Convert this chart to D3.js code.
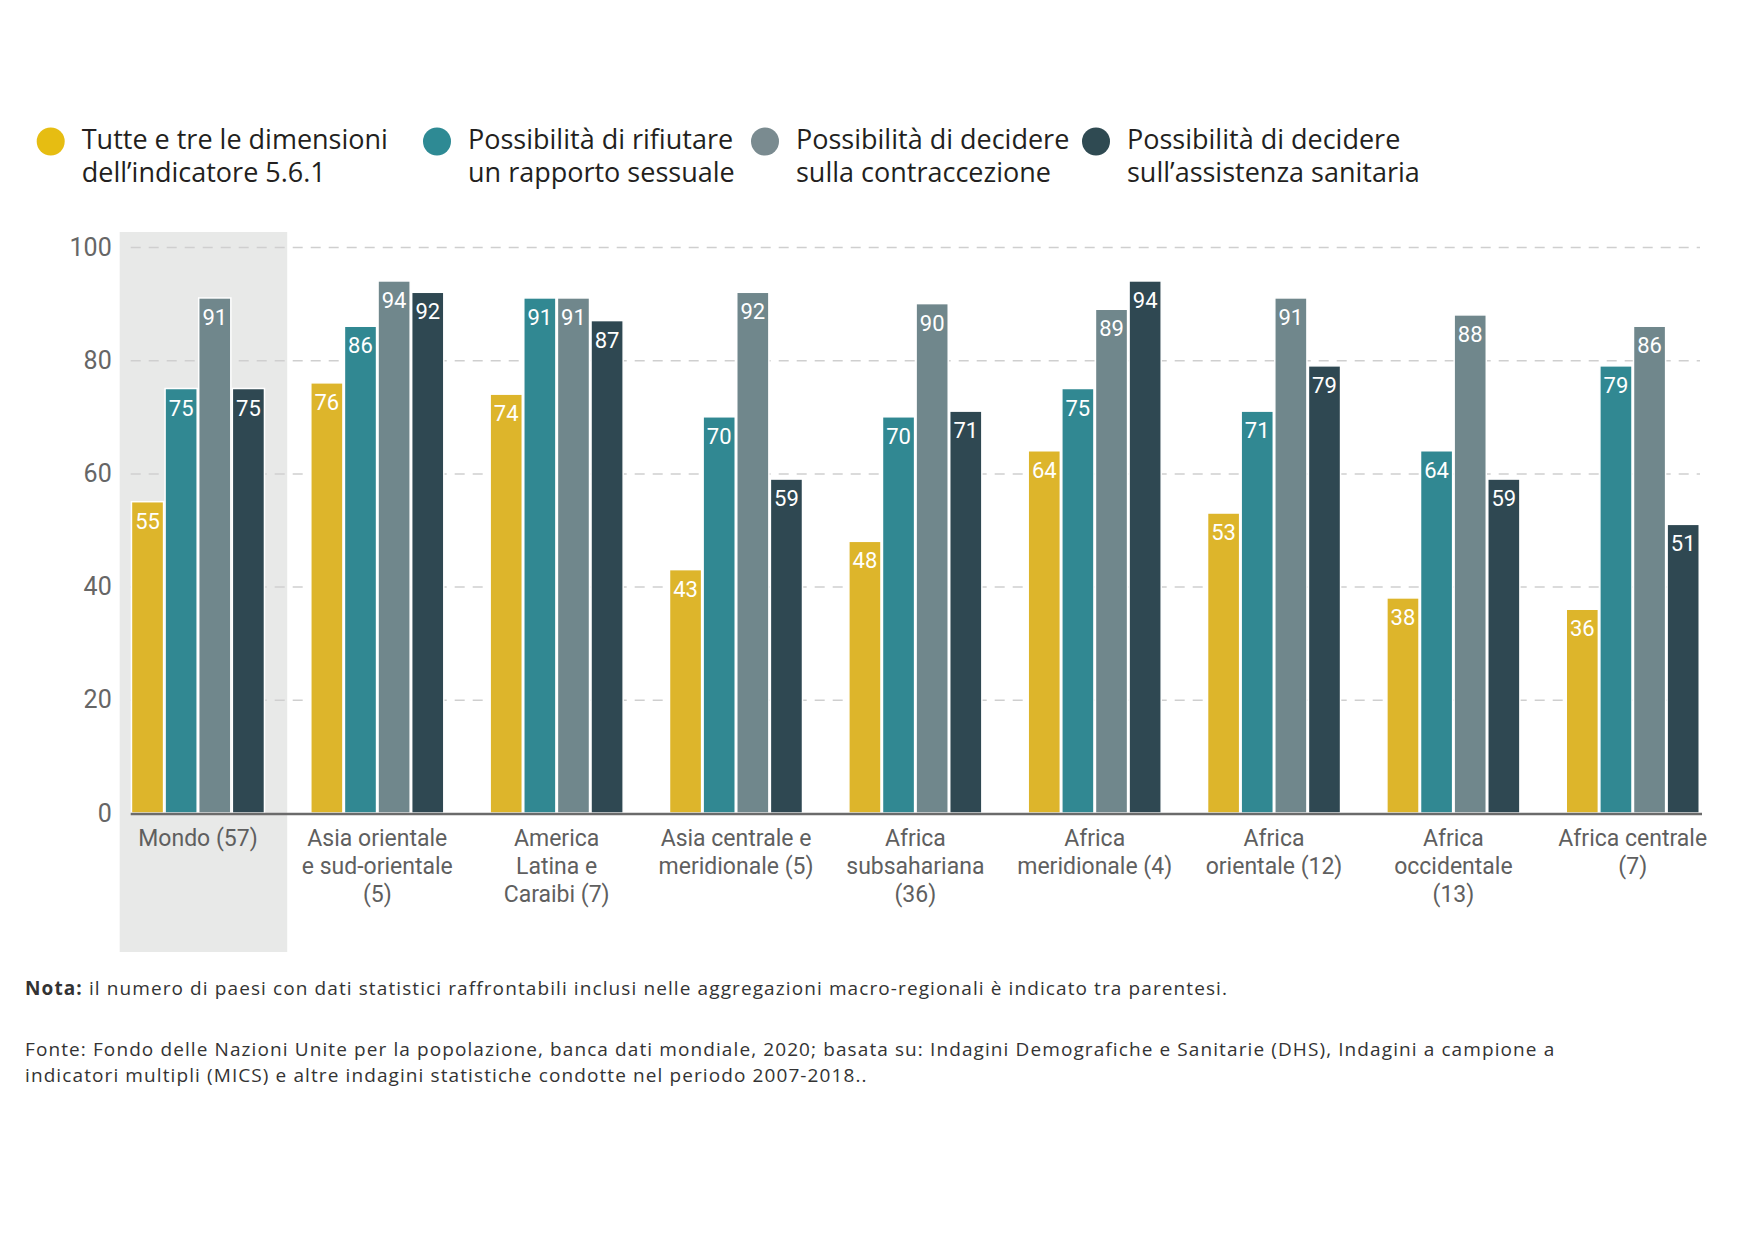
<!DOCTYPE html>
<html lang="it">
    <head>
        <meta charset="utf-8">
        <title>Indicatore 5.6.1</title>
        <script src="https://cdn.jsdelivr.net/npm/d3@7"></script>
        <style>
            body { margin: 0; background: #fff; }
        </style>
    </head>
    <body>
        <script>
            // data
            var categories = [
                ["Mondo (57)"],
                ["Asia orientale", "e sud-orientale", "(5)"],
                ["America", "Latina e", "Caraibi (7)"],
                ["Asia centrale e", "meridionale (5)"],
                ["Africa", "subsahariana", "(36)"],
                ["Africa", "meridionale (4)"],
                ["Africa", "orientale (12)"],
                ["Africa", "occidentale", "(13)"],
                ["Africa centrale", "(7)"]
            ];
            var seriesKeys = ["tutte", "rifiutare", "contraccezione", "sanitaria"];
            var seriesLabels = [
                ["Tutte e tre le dimensioni", "dell\u2019indicatore 5.6.1"],
                ["Possibilit\u00e0 di rifiutare", "un rapporto sessuale"],
                ["Possibilit\u00e0 di decidere", "sulla contraccezione"],
                ["Possibilit\u00e0 di decidere", "sull\u2019assistenza sanitaria"]
            ];
            var tutte          = [55, 76, 74, 43, 48, 64, 53, 38, 36];
            var rifiutare      = [75, 86, 91, 70, 70, 75, 71, 64, 79];
            var contraccezione = [91, 94, 91, 92, 90, 89, 91, 88, 86];
            var sanitaria      = [75, 92, 87, 59, 71, 94, 79, 59, 51];
            var yTicks = [0, 20, 40, 60, 80, 100];

            var colors = ["#DDB52B", "#318892", "#70878C", "#2F4852"];
            var legendColors = ["#E6BD12", "#2E8A94", "#7A8B90", "#2F4A52"];

            var w = 1748, h = 1240;
            // (not "top": that name is taken by window.top)
            var plotLeft = 130.7, plotRight = 1700, plotTop = 247, plotBottom = 813;

            var svg = d3.select("body").append("svg")
                .attr("width", w)
                .attr("height", h);

            var groupNames = categories.map(function (c) { return c.join(" "); });
            var values = [tutte, rifiutare, contraccezione, sanitaria];

            var x0 = d3.scaleBand()
                .domain(groupNames)
                .range([plotLeft, plotRight])
                .paddingInner(0.25)
                .paddingOuter(0);

            var x1 = d3.scaleBand()
                .domain(seriesKeys)
                .range([0, x0.bandwidth()]);

            var y = d3.scaleLinear()
                .domain([0, 100])
                .range([plotBottom, plotTop]);

            // grey band behind "Mondo"
            svg.append("rect")
                .attr("x", x0(groupNames[0]) - 11)
                .attr("y", 232)
                .attr("width", x0.bandwidth() + 33)
                .attr("height", 952 - 232)
                .attr("fill", "#E8E9E8");

            // y axis + dashed grid
            var yAxis = svg.append("g")
                .attr("transform", "translate(" + plotLeft + ",0)")
                .call(d3.axisLeft(y).tickValues(yTicks).tickSize(-(plotRight - plotLeft)).tickPadding(19));
            yAxis.select(".domain").remove();
            yAxis.selectAll(".tick line")
                .attr("stroke", "#cfcfcf")
                .attr("stroke-width", 1.5)
                .attr("stroke-dasharray", "10,8")
                .filter(function (d) { return d === 0; }).remove();
            yAxis.selectAll(".tick text")
                .attr("font-family", "Roboto, sans-serif")
                .attr("font-size", "25px")
                .attr("fill", "#666");

            // bars
            var groups = svg.selectAll(".group")
                .data(groupNames)
                .enter().append("g")
                .attr("class", "group")
                .attr("transform", function (d) { return "translate(" + x0(d) + ",0)"; });

            var bars = groups.selectAll(".bar")
                .data(function (d, i) {
                    return seriesKeys.map(function (k, j) { return { key: k, j: j, value: values[j][i] }; });
                })
                .enter().append("g");

            bars.append("rect")
                .attr("x", function (d) { return x1(d.key) + 0.75; })
                .attr("y", function (d) { return y(d.value); })
                .attr("width", x1.bandwidth() - 1.5)
                .attr("height", function (d) { return plotBottom - y(d.value); })
                .attr("fill", function (d) { return colors[d.j]; })
                .attr("stroke", "#fff")
                .attr("stroke-width", 1.5);

            bars.append("text")
                .text(function (d) { return d.value; })
                .attr("x", function (d) { return x1(d.key) + x1.bandwidth() / 2; })
                .attr("y", function (d) { return y(d.value) + 27; })
                .attr("text-anchor", "middle")
                .attr("font-family", "Roboto, sans-serif")
                .attr("font-size", "22px")
                .attr("fill", "#fff");

            // baseline
            svg.append("line")
                .attr("x1", plotLeft)
                .attr("x2", plotRight + 2)
                .attr("y1", plotBottom + 1)
                .attr("y2", plotBottom + 1)
                .attr("stroke", "#6b6b6b")
                .attr("stroke-width", 2.5);

            // category labels
            var catLabels = svg.selectAll(".cat")
                .data(categories)
                .enter().append("text")
                .attr("class", "cat")
                .attr("text-anchor", "middle")
                .attr("font-family", "Roboto, sans-serif")
                .attr("font-size", "23px")
                .attr("fill", "#5f5f5f");
            catLabels.selectAll("tspan")
                .data(function (d, i) { return d.map(function (l) { return { line: l, i: i }; }); })
                .enter().append("tspan")
                .attr("x", function (d) { return x0(groupNames[d.i]) + x0.bandwidth() / 2; })
                .attr("y", function (d, k) { return 846 + k * 28; })
                .text(function (d) { return d.line; });

            // legend
            var legendX = [50.7, 437, 765, 1096];
            var legend = svg.selectAll(".legend")
                .data(seriesLabels)
                .enter().append("g")
                .attr("class", "legend")
                .attr("transform", function (d, i) { return "translate(" + legendX[i] + ",0)"; });
            legend.append("circle")
                .attr("cx", 0)
                .attr("cy", 141.5)
                .attr("r", 14)
                .attr("fill", function (d, i) { return legendColors[i]; });
            legend.append("text")
                .attr("font-family", "'Open Sans', sans-serif")
                .attr("font-size", "27px")
                .attr("fill", "#231f20")
                .selectAll("tspan")
                .data(function (d) { return d; })
                .enter().append("tspan")
                .attr("x", 31)
                .attr("y", function (d, k) { return 149 + k * 32.5; })
                .text(function (d) { return d; });

            // notes
            var nota = svg.append("text")
                .attr("x", 25)
                .attr("y", 995)
                .attr("font-family", "'Open Sans', sans-serif")
                .attr("font-size", "19px")
                .attr("letter-spacing", "1.1px")
                .attr("fill", "#333");
            nota.append("tspan").attr("font-weight", "bold").text("Nota:");
            nota.append("tspan").text(" il numero di paesi con dati statistici raffrontabili inclusi nelle aggregazioni macro-regionali \u00e8 indicato tra parentesi.");

            var fonte = [
                "Fonte: Fondo delle Nazioni Unite per la popolazione, banca dati mondiale, 2020; basata su: Indagini Demografiche e Sanitarie (DHS), Indagini a campione a",
                "indicatori multipli (MICS) e altre indagini statistiche condotte nel periodo 2007-2018.."
            ];
            svg.append("text")
                .attr("font-family", "'Open Sans', sans-serif")
                .attr("font-size", "19px")
                .attr("letter-spacing", "1.1px")
                .attr("fill", "#333")
                .selectAll("tspan")
                .data(fonte)
                .enter().append("tspan")
                .attr("x", 25)
                .attr("y", function (d, k) { return 1056 + k * 26; })
                .text(function (d) { return d; });
        </script>
    </body>
</html>
